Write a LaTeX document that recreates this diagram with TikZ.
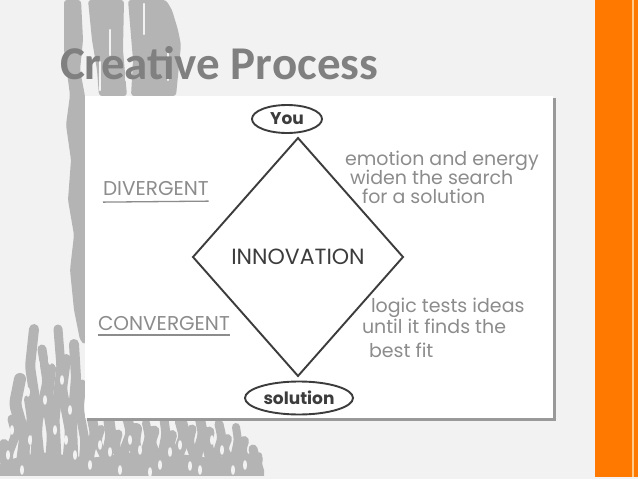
\documentclass[tikz,border=0pt]{standalone}
\usepackage{fontspec}
\setmainfont{Carlito}
\newfontfamily\hand{Poppins}
\usetikzlibrary{shapes.geometric}

\definecolor{slidebg}{HTML}{F2F2F2}
\definecolor{grungegray}{HTML}{B4B4B4}
\definecolor{titlegray}{HTML}{808080}
\definecolor{penlight}{HTML}{8C8C8C}
\definecolor{pendark}{HTML}{3C3C3C}
\definecolor{barorange}{HTML}{FF7800}
\definecolor{barlight}{HTML}{FFC98A}

\begin{document}
\begin{tikzpicture}[x=1pt, y=-1pt]
\tikzset{ >=latex, inner sep=0pt, outer sep=0pt,
  grunge/.style={fill=grungegray, rounded corners=3pt},
  drip/.style={draw=grungegray, line cap=round, rounded corners=4pt},
  pen/.style={draw=pendark, line width=1.9pt},
  bubble/.style={pen, ellipse, text=pendark, font=\hand\bfseries\fontsize{17}{17}\selectfont},
  note/.style={anchor=base west, text=penlight, font=\hand\fontsize{19}{19}\selectfont},
  tag/.style={anchor=base west, text=penlight, font=\hand\fontsize{20}{20}\selectfont},
  underl/.style={draw=penlight, line width=1.3pt},
}

\fill[slidebg] (0,0) rectangle (638,479);
\useasboundingbox (0,0) rectangle (638,479);

%\draw [lightgray, dashed](0,0) grid[step=50] (638,479);

% texture, top left
\fill[grunge] (64,0) -- (81,0) -- (83,40) -- (80,70) -- (85,96) -- (85,345) -- (80,340)
  -- (74,310) -- (70,270) -- (74,235) -- (68,200) -- (71,160) -- (66,125) -- (70,95) -- (64,50) -- cycle;
\fill[grunge] (88,0) -- (124,0) -- (123,50) -- (127,96) -- (99,96) -- (97,70) -- (92,40) -- cycle;
\fill[grunge] (128,0) -- (166,0) -- (172,10) -- (178,30) -- (181,45) -- (176,96) -- (131,96) -- (133,60) -- cycle;
\foreach \x/\ya/\yb in {84/0/45, 126/0/80, 144/4/34, 110/30/55, 100/62/90, 168/50/80}
  \draw[slidebg, line width=2.5pt, line cap=round] (\x,\ya) -- (\x,\yb);

% texture, bottom left: wavy drips rising from the lower edge
\fill[grunge] (0,479) -- (0,462) -- (40,452) -- (90,458) -- (150,450) -- (210,458) -- (262,452) -- (262,479) -- cycle;
\foreach \x/\t/\w/\d in {4/35/10/3, 12/60/9/-4, 20/100/12/5, 28/80/8/-3, 34/150/10/4, 42/130/9/-5,
  50/110/12/3, 58/150/9/-3, 66/120/10/4, 74/135/10/-2, 82/95/9/3, 92/60/10/-3, 101/50/8/4,
  109/58/11/-2, 118/45/9/3, 127/62/10/-4, 136/50/12/2, 146/56/8/-3, 154/48/11/4, 164/60/9/-2,
  172/44/10/3, 181/57/12/-4, 192/50/9/3, 200/60/10/-3, 209/47/11/2, 219/55/9/-3, 227/40/10/4,
  236/52/8/-2, 244/38/10/3, 253/30/9/-2, 259/20/8/2}
  \draw[drip, line width=\w pt] (\x,479) -- (\x+\d,479-0.4*\t) -- (\x-\d,479-0.75*\t) -- (\x,479-\t);
\foreach \x/\y in {8/455, 30/440, 22/470, 45/400, 55/430, 38/365, 62/380, 75/455, 100/445,
  120/470, 140/450, 160/465, 180/445, 200/470, 222/450, 245/465, 70/410, 28/392, 12/430,
  50/360, 66/440, 90/465, 110/452, 130/440, 150/472, 170/452, 190/466, 212/440, 233/470}
  \fill[slidebg] (\x,\y) ellipse (2pt and 5pt);
\fill[slidebg] (0,476) rectangle (638,479);

% orange bar
\fill[barorange] (595,0) rectangle (638,477);
\draw[barlight, line width=1.2pt] (633,0) -- (633,477);

% title
\node[anchor=base west, text=titlegray, font=\bfseries\fontsize{47}{47}\selectfont] (title) at (60,79) {Creative Process};

% picture panel
\fill[black!40] (87,98) rectangle (556,421);
\fill[white] (85,96) rectangle (553,418);

\node[pen, diamond, minimum width=210pt, minimum height=238pt, text=pendark,
  font=\hand\fontsize{22}{22}\selectfont] (inno) at (298,257) {INNOVATION};

\node[bubble, minimum width=70pt, minimum height=28pt] (you) at (287,119) {You};
\node[bubble, minimum width=108pt, minimum height=33pt] (sol) at (299,398) {solution};

\node[tag] (div) at (103,195) {DIVERGENT};
\node[tag] (conv) at (98,330) {CONVERGENT};
\draw[underl] ([yshift=-7pt]div.south west) -- ([yshift=-6pt]div.south east);
\draw[underl] ([yshift=-5pt]conv.south west) -- ([yshift=-5pt]conv.south east);

\node[note] (emo) at (345,165) {emotion and energy};
\node[note] (wid) at (350,184) {widen the search};
\node[note] (sea) at (362,203) {for a solution};

\node[note] (log) at (371,312) {logic tests ideas};
\node[note] (unt) at (362,333) {until it finds the};
\node[note] (fit) at (369,357) {best fit};

\end{tikzpicture}
\end{document}
